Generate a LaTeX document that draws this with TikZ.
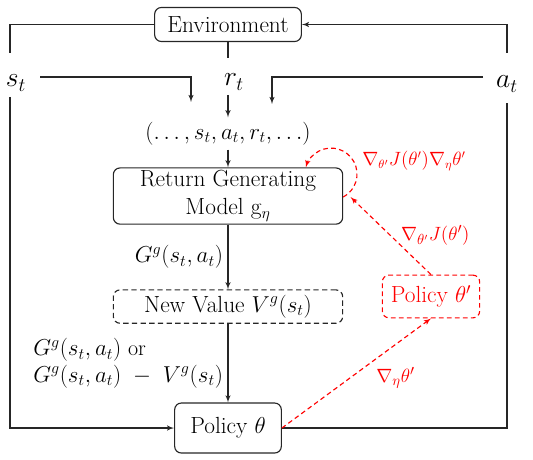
\documentclass[tikz,border=0pt]{standalone}
\usetikzlibrary{shapes,arrows,positioning}
\newcommand{\boxfont}{\fontsize{17.5}{21}\selectfont}
\newcommand{\lblfont}{\fontsize{16.5}{20}\selectfont}
\newcommand{\symfont}{\fontsize{22}{26}\selectfont}
\tikzstyle{block} = [rectangle, draw=black!85, line width=0.85pt, rounded corners=5pt, text centered, font=\boxfont]
\tikzstyle{redblock} = [rectangle, draw=red, line width=0.85pt, dash pattern=on 3.5pt off 2.5pt, rounded corners=5pt, text centered, text=red, font=\boxfont]
\tikzstyle{wire} = [draw=black!85, line width=0.85pt]
\tikzstyle{line} = [draw=black!85, line width=0.85pt, -latex']
\tikzstyle{redline} = [draw=red, line width=0.85pt, dash pattern=on 3.5pt off 2.5pt, -latex']
\tikzstyle{sym} = [font=\symfont]
\tikzstyle{redtext} = [text=red, font=\fontsize{15}{18}\selectfont]

\begin{document}
\begin{tikzpicture}[x=0.75pt, y=0.75pt, node distance=2cm, auto]
      \useasboundingbox (0,0) rectangle (533,-460);
      % place nodes
      \node [block, minimum width=110pt, minimum height=25.5pt, inner sep=2pt] (env) at (228,-24.5) {Environment};
      \node [below of=env, node distance=81.75pt, font=\lblfont] (traj) {$(\ldots, s_t, a_t, r_t, \ldots)$};
      \node [block, below of=traj, node distance=46.9pt, minimum width=172pt, minimum height=42pt, align=center, inner sep=2pt] (rgm) {Return Generating\\Model g$_\eta$};
      \node [block, dashed, dash pattern=on 4pt off 2.5pt, below of=rgm, node distance=82.9pt, minimum width=172pt, minimum height=25pt, inner sep=2pt] (nv) {New Value $V^g(s_t)$};
      \node [block, below of=nv, node distance=91.1pt, minimum width=80pt, minimum height=37.5pt] (pol) {Policy $\theta$};
      \node [redblock, minimum width=73pt, minimum height=32pt, inner sep=2pt] (pp) at (431,-296.5) {Policy $\theta'$};

      \node [sym] (slab) at (16,-83) {$s_t$};
      \node [sym] (rlab) at (234,-82) {$r_t$};
      \node [sym] (alab) at (507,-84) {$a_t$};
      \node [redtext, font=\fontsize{13.5}{16}\selectfont] (looplbl) at (414,-161) {$\nabla_{\theta'}J(\theta')\nabla_\eta\theta'$};

      % free ends
      \coordinate (lup) at (10,-53);
      \coordinate (ldn) at (10,-97);
      \coordinate (rup) at (507,-53);
      \coordinate (rdn) at (507,-103);
      \coordinate (renv) at (228,-58);
      \coordinate (rin) at (228,-95);
      \coordinate (sfrom) at (40,-77);
      \coordinate (sto) at (191,-102);
      \coordinate (afrom) at (483,-77);
      \coordinate (ato) at (272,-104);

      % draw edges
      \path [wire] (env.west) -| (lup);
      \path [line] (ldn) |- (pol.west);
      \path [wire] (pol.east) -| (rdn);
      \path [line] (rup) |- (env.east);
      \path [wire] (env.south) -- (renv);
      \path [line] (rin) -- (traj);
      \path [line] (sfrom) -| (sto);
      \path [line] (afrom) -| (ato);
      \path [line] (traj) -- (rgm);
      \path [line] (rgm) -- node [left, font=\lblfont] {$G^g(s_t,a_t)$} (nv);
      \path [line] (nv) -- node [left, align=left, font=\lblfont] {$G^g(s_t,a_t)$ or\\$G^g(s_t,a_t)\ -\ V^g(s_t)$} (pol);

      % red gradient paths
      \path [redline] (pol.east) -- node [pos=0.6, below right, redtext] {$\nabla_\eta\theta'$} (pp.south);
      \path [redline] (pp.north) -- node [pos=0.5, right, xshift=4pt, redtext] {$\nabla_{\theta'}J(\theta')$} ([xshift=5.5pt,yshift=-0.75pt]rgm.east);
      \path [redline] ([yshift=-0.75pt]rgm.east) arc [start angle=-62, end angle=165, radius=26];
    \end{tikzpicture}
\end{document}
